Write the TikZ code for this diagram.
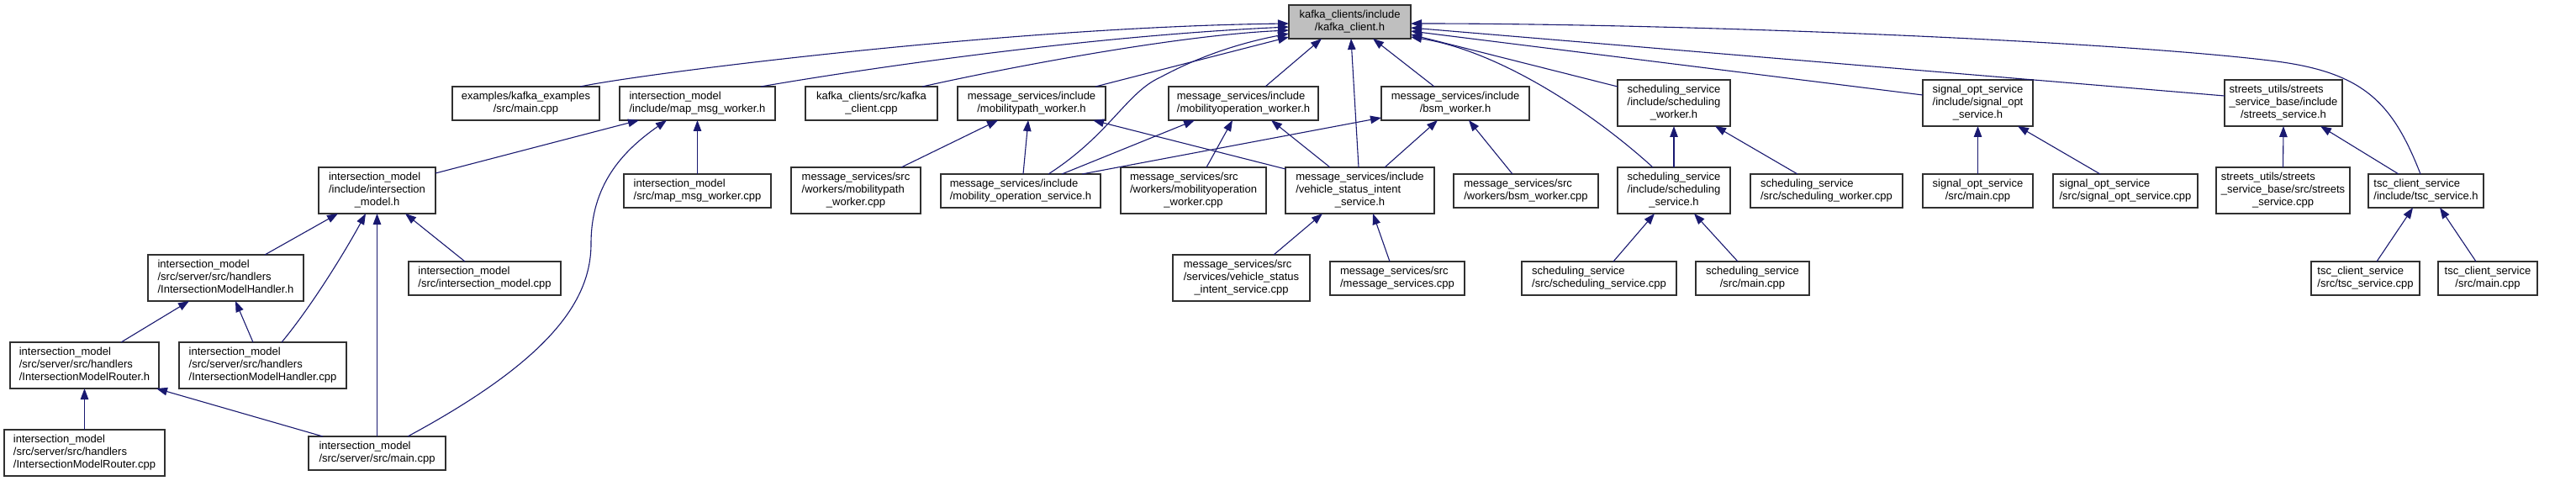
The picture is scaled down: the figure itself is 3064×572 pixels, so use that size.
\documentclass[tikz,border=0pt]{standalone}
\usepackage{fontspec}
\setmainfont{Liberation Sans}
\usetikzlibrary{arrows.meta}
\definecolor{grey75}{HTML}{BFBFBF}
\definecolor{edgeblue}{HTML}{191970}
\definecolor{boxline}{HTML}{303030}
\newcommand{\nt}[1]{\begin{tabular}{@{}l@{}}#1\end{tabular}}
\newcommand{\cl}[1]{\multicolumn{1}{@{}c@{}}{#1}}
\begin{document}
\begin{tikzpicture}[x=1pt,y=-1pt,
  box/.style={draw=boxline, line width=1.3pt, fill=white, inner sep=0pt, outer sep=0pt,
    font=\fontsize{13}{14.7}\selectfont, anchor=center},
  two/.style={minimum height=40pt},
  three/.style={minimum height=55pt},
  edge/.style={draw=edgeblue, line width=1.1pt, -{Triangle[length=13pt,width=9.5pt,fill=edgeblue]}}]
\useasboundingbox[fill=white] (0,0) rectangle (3064,572);

% row 0
\node[box,two,fill=grey75,minimum width=145pt] (kc) at (1605.5,26) {\nt{kafka\_clients/include\\\cl{/kafka\_client.h}}};
% row 1
\node[box,two,minimum width=175pt] (ex) at (625.5,123) {\nt{examples/kafka\_examples\\\cl{/src/main.cpp}}};
\node[box,two,minimum width=185pt] (mmw) at (829.5,123) {\nt{intersection\_model\\\cl{/include/map\_msg\_worker.h}}};
\node[box,two,minimum width=157pt] (kcc) at (1036.5,123) {\nt{kafka\_clients/src/kafka\\\cl{\_client.cpp}}};
\node[box,two,minimum width=176pt] (mpw) at (1227,123) {\nt{message\_services/include\\\cl{/mobilitypath\_worker.h}}};
\node[box,two,minimum width=178pt] (mow) at (1479,123) {\nt{message\_services/include\\\cl{/mobilityoperation\_worker.h}}};
\node[box,two,minimum width=176pt] (bsm) at (1731,123) {\nt{message\_services/include\\\cl{/bsm\_worker.h}}};
\node[box,three,minimum width=134pt] (sw) at (1991,122.5) {\nt{scheduling\_service\\/include/scheduling\\\cl{\_worker.h}}};
\node[box,three,minimum width=131pt] (soh) at (2352.5,122.5) {\nt{signal\_opt\_service\\/include/signal\_opt\\\cl{\_service.h}}};
\node[box,three,minimum width=140pt] (ssh) at (2716,122.5) {\nt{streets\_utils/streets\\\_service\_base/include\\\cl{/streets\_service.h}}};
% row 2
\node[box,three,minimum width=139pt] (imh) at (448.5,226.5) {\nt{intersection\_model\\/include/intersection\\\cl{\_model.h}}};
\node[box,two,minimum width=175pt] (mmwc) at (829.5,227) {\nt{intersection\_model\\\cl{/src/map\_msg\_worker.cpp}}};
\node[box,three,minimum width=154pt] (mpwc) at (1018,226.5) {\nt{message\_services/src\\/workers/mobilitypath\\\cl{\_worker.cpp}}};
\node[box,two,minimum width=190pt] (mos) at (1214,227) {\nt{message\_services/include\\\cl{/mobility\_operation\_service.h}}};
\node[box,three,minimum width=173pt] (mowc) at (1419.5,226.5) {\nt{message\_services/src\\/workers/mobilityoperation\\\cl{\_worker.cpp}}};
\node[box,three,minimum width=177pt] (vsi) at (1617.5,226.5) {\nt{message\_services/include\\/vehicle\_status\_intent\\\cl{\_service.h}}};
\node[box,two,minimum width=172pt] (bsmc) at (1815,227) {\nt{message\_services/src\\\cl{/workers/bsm\_worker.cpp}}};
\node[box,three,minimum width=134pt] (ssvh) at (1991,226.5) {\nt{scheduling\_service\\/include/scheduling\\\cl{\_service.h}}};
\node[box,two,minimum width=181pt] (swc) at (2172.5,227) {\nt{scheduling\_service\\\cl{/src/scheduling\_worker.cpp}}};
\node[box,two,minimum width=131pt] (som) at (2352.5,227) {\nt{signal\_opt\_service\\\cl{/src/main.cpp}}};
\node[box,two,minimum width=172pt] (soc) at (2528,227) {\nt{signal\_opt\_service\\\cl{/src/signal\_opt\_service.cpp}}};
\node[box,three,minimum width=159pt] (ssc) at (2715.5,226.5) {\nt{streets\_utils/streets\\\_service\_base/src/streets\\\cl{\_service.cpp}}};
\node[box,two,minimum width=137pt] (tsh) at (2885.5,227) {\nt{tsc\_client\_service\\\cl{/include/tsc\_service.h}}};
% row 3
\node[box,three,minimum width=185pt] (imhh) at (268.5,330.5) {\nt{intersection\_model\\/src/server/src/handlers\\\cl{/IntersectionModelHandler.h}}};
\node[box,two,minimum width=181pt] (imc) at (576.5,331) {\nt{intersection\_model\\\cl{/src/intersection\_model.cpp}}};
\node[box,three,minimum width=163pt] (vsic) at (1476.5,330.5) {\nt{message\_services/src\\/services/vehicle\_status\\\cl{\_intent\_service.cpp}}};
\node[box,two,minimum width=160pt] (msc) at (1662,331) {\nt{message\_services/src\\\cl{/message\_services.cpp}}};
\node[box,two,minimum width=184pt] (ssvc) at (1902,331) {\nt{scheduling\_service\\\cl{/src/scheduling\_service.cpp}}};
\node[box,two,minimum width=135pt] (ssm) at (2084.5,331) {\nt{scheduling\_service\\\cl{/src/main.cpp}}};
\node[box,two,minimum width=129pt] (tsc) at (2813.5,331) {\nt{tsc\_client\_service\\\cl{/src/tsc\_service.cpp}}};
\node[box,two,minimum width=118pt] (tsm) at (2959,331) {\nt{tsc\_client\_service\\\cl{/src/main.cpp}}};
% row 4
\node[box,three,minimum width=177pt] (imr) at (100.5,434.5) {\nt{intersection\_model\\/src/server/src/handlers\\\cl{/IntersectionModelRouter.h}}};
\node[box,three,minimum width=199pt] (imhc) at (312.5,434.5) {\nt{intersection\_model\\/src/server/src/handlers\\\cl{/IntersectionModelHandler.cpp}}};
% row 5
\node[box,three,minimum width=191pt] (imrc) at (100.5,538.5) {\nt{intersection\_model\\/src/server/src/handlers\\\cl{/IntersectionModelRouter.cpp}}};
\node[box,two,minimum width=163pt] (ism) at (448.5,539) {\nt{intersection\_model\\\cl{/src/server/src/main.cpp}}};

% edges into kafka_client.h
\draw[edge] ([xshift=152pt]ex.north west) .. controls (760,88) and (1200,32) .. ([yshift=-22pt]kc.north west);
\draw[edge] ([xshift=168pt]mmw.north west) .. controls (950,95) and (1250,45) .. ([yshift=-26pt]kc.north west);
\draw[edge] ([xshift=139pt]kcc.north west) .. controls (1200,80) and (1400,42) .. ([yshift=-30pt]kc.north west);
\draw[edge] ([xshift=128pt]mos.north west) .. controls (1320,160) and (1340,110) .. (1380,92) .. controls (1430,65) and (1480,50) .. ([yshift=-34pt]kc.north west);
\draw[edge] ([xshift=164pt]mpw.north west) -- ([yshift=-38pt]kc.north west);
\draw[edge] ([xshift=115pt]mow.north west) -- ([xshift=39pt]kc.south west);
\draw[edge] ([xshift=87pt]vsi.north west) -- ([xshift=74pt]kc.south west);
\draw[edge] ([xshift=63pt]bsm.north west) -- ([xshift=100pt]kc.south west);
\draw[edge] ([yshift=-8pt]sw.north west) -- ([yshift=-35pt]kc.north east);
\draw[edge] ([xshift=42pt]ssvh.north west) .. controls (1890,130) and (1780,60) .. ([yshift=-38pt]kc.north east);
\draw[edge] ([yshift=-18pt]soh.north west) -- ([yshift=-31pt]kc.north east);
\draw[edge] ([yshift=-19pt]ssh.north west) -- ([yshift=-27pt]kc.north east);
\draw[edge] ([xshift=62pt]tsh.north west) .. controls (2845,120) and (2810,85) .. (2700,72) .. controls (2500,48) and (2000,28) .. ([yshift=-22pt]kc.north east);

% map_msg_worker.h
\draw[edge] ([yshift=-7pt]imh.north east) -- ([xshift=23pt]mmw.south west);
\draw[edge] (mmwc.north) -- (mmw.south);
\draw[edge] ([xshift=118pt]ism.north west) .. controls (650,430) and (703,360) .. (703,290) .. controls (703,220) and (740,180) .. ([xshift=56pt]mmw.south west);

% intersection_model.h
\draw[edge] ([xshift=139pt]imhh.north west) -- ([xshift=23pt]imh.south west);
\draw[edge] ([xshift=122pt]imhc.north west) .. controls (370,365) and (410,300) .. ([xshift=56pt]imh.south west);
\draw[edge] (ism.north) -- (imh.south);
\draw[edge] ([xshift=67pt]imc.north west) -- ([xshift=103pt]imh.south west);

% IntersectionModelHandler.h
\draw[edge] ([xshift=132pt]imr.north west) -- ([xshift=49pt]imhh.south west);
\draw[edge] ([xshift=88pt]imhc.north west) -- ([xshift=104pt]imhh.south west);

% IntersectionModelRouter.h
\draw[edge] (imrc.north) -- (imr.south);
\draw[edge] ([xshift=17pt]ism.north west) -- ([xshift=-3pt]imr.south east);

% mobilitypath_worker.h
\draw[edge] ([xshift=131pt]mpwc.north west) -- ([xshift=48pt]mpw.south west);
\draw[edge] ([xshift=98pt]mos.north west) -- ([xshift=84pt]mpw.south west);
\draw[edge] ([yshift=-2pt]vsi.north west) -- ([xshift=161pt]mpw.south west);

% mobilityoperation_worker.h
\draw[edge] ([xshift=144pt]mos.north west) -- ([xshift=31pt]mow.south west);
\draw[edge] ([xshift=102pt]mowc.north west) -- ([xshift=76pt]mow.south west);
\draw[edge] ([xshift=53pt]vsi.north west) -- ([xshift=122pt]mow.south west);

% bsm_worker.h
\draw[edge] ([xshift=168pt]mos.north west) -- ([yshift=-37pt]bsm.north west);
\draw[edge] ([xshift=118pt]vsi.north west) -- ([xshift=67pt]bsm.south west);
\draw[edge] ([xshift=70pt]bsmc.north west) -- ([xshift=104pt]bsm.south west);

% vehicle_status_intent_service.h
\draw[edge] ([xshift=120pt]vsic.north west) -- ([xshift=44pt]vsi.south west);
\draw[edge] ([xshift=71pt]msc.north west) -- ([xshift=104pt]vsi.south west);

% scheduling_worker.h
\draw[edge] (ssvh.north) -- (sw.south);
\draw[edge] ([xshift=56pt]swc.north west) -- ([xshift=116pt]sw.south west);

% scheduling_service.h
\draw[edge] ([xshift=109pt]ssvc.north west) -- ([xshift=44pt]ssvh.south west);
\draw[edge] ([xshift=50pt]ssm.north west) -- ([xshift=91pt]ssvh.south west);

% signal_opt_service.h
\draw[edge] (som.north) -- (soh.south);
\draw[edge] ([xshift=56pt]soc.north west) -- ([xshift=113pt]soh.south west);

% streets_service.h
\draw[edge] (ssc.north) -- (ssh.south);
\draw[edge] ([xshift=36pt]tsh.north west) -- ([xshift=114pt]ssh.south west);

% tsc_service.h
\draw[edge] ([xshift=78pt]tsc.north west) -- ([xshift=53pt]tsh.south west);
\draw[edge] ([xshift=45pt]tsm.north west) -- ([xshift=85pt]tsh.south west);
\end{tikzpicture}
\end{document}
